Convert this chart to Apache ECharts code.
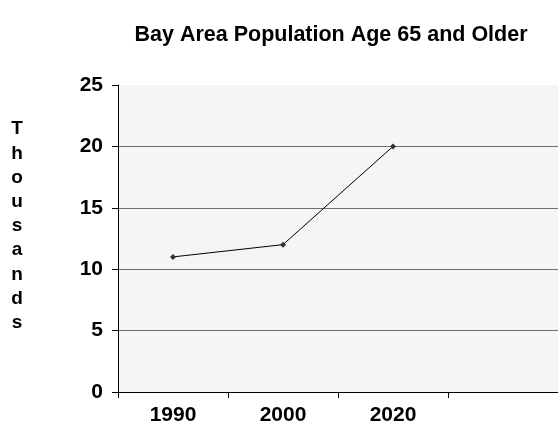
<!DOCTYPE html>
<html>
<head>
<meta charset="utf-8">
<script src="https://cdn.jsdelivr.net/npm/echarts@6/dist/echarts.min.js"></script>
<style>
html,body{margin:0;padding:0;background:#fff;}
#chart{width:558px;height:436px;}
</style>
</head>
<body>
<div id="chart"></div>
<script>
const titleText = 'Bay Area Population Age 65 and Older';
const yAxisTitle = 'Thousands';
const categories = ['1990', '2000', '2020', ''];
const populationThousands = [11, 12, 20, null];
const yTicks = [0, 5, 10, 15, 20, 25];

const FONT = '"Liberation Sans", Arial, sans-serif';
const chart = echarts.init(document.getElementById('chart'), null, {renderer: 'canvas'});
chart.setOption({
  animation: false,
  backgroundColor: '#ffffff',
  title: {
    text: titleText,
    left: 326,
    top: 19,
    textAlign: 'center',
    textStyle: {fontFamily: FONT, fontWeight: 'bold', fontSize: 21.5, color: '#000'}
  },
  graphic: [{
    type: 'text',
    x: 17,
    y: 117,
    style: {
      text: yAxisTitle.split('').join('\n'),
      fontFamily: FONT, fontWeight: 'bold', fontSize: 19,
      lineHeight: 24.2, fill: '#000', align: 'center', verticalAlign: 'top'
    }
  }],
  grid: {
    left: 118, top: 85, width: 443, height: 307,
    show: true, backgroundColor: '#f5f5f5', borderWidth: 0
  },
  xAxis: {
    type: 'category',
    data: categories,
    boundaryGap: true,
    axisLine: {lineStyle: {color: '#000', width: 1}},
    axisTick: {show: true, length: 6, inside: false, lineStyle: {color: '#000'}},
    axisLabel: {fontFamily: FONT, fontWeight: 'bold', fontSize: 21, color: '#000', margin: 13},
    splitLine: {show: false}
  },
  yAxis: {
    type: 'value',
    min: yTicks[0], max: yTicks[yTicks.length - 1], interval: 5,
    axisLine: {show: true, lineStyle: {color: '#000', width: 1}},
    axisTick: {show: true, length: 6, lineStyle: {color: '#000'}},
    axisLabel: {fontFamily: FONT, fontWeight: 'bold', fontSize: 21, color: '#000', margin: 15},
    splitLine: {show: true, lineStyle: {color: ['#6e6e6e','#6e6e6e','#6e6e6e','#6e6e6e','#6e6e6e','rgba(0,0,0,0)'], width: 1}}
  },
  series: [{
    type: 'line',
    data: populationThousands,
    symbol: 'diamond',
    symbolSize: 6,
    itemStyle: {color: '#333'},
    lineStyle: {color: '#000', width: 1},
    connectNulls: false
  }]
});
</script>
</body>
</html>
